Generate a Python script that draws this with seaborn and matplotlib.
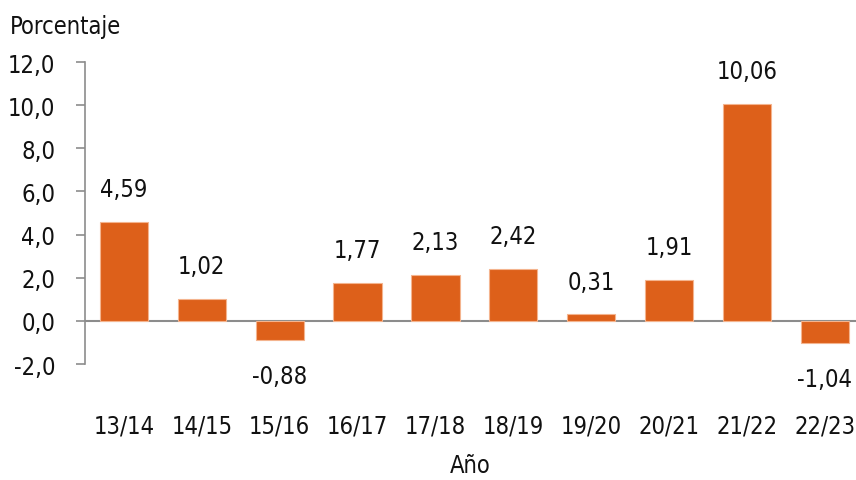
import matplotlib
matplotlib.use("Agg")
import matplotlib.pyplot as plt
import seaborn as sns
import pandas as pd

anios = ["13/14", "14/15", "15/16", "16/17", "17/18", "18/19", "19/20", "20/21", "21/22", "22/23"]
valores = [4.59, 1.02, -0.88, 1.77, 2.13, 2.42, 0.31, 1.91, 10.06, -1.04]
yticks = [-2, 0, 2, 4, 6, 8, 10, 12]

sns.set_theme(style="white")
plt.rcParams["font.family"] = ["DejaVu Sans"]
plt.rcParams["font.stretch"] = "condensed"

FS = 17
df = pd.DataFrame({"Año": anios, "Porcentaje": valores})

fig = plt.figure(figsize=(8.56, 4.81), dpi=100)
ax = fig.add_axes([85 / 856, 1 - 365 / 481, 1 - 85 / 856, (365 - 63) / 481])

sns.barplot(data=df, x="Año", y="Porcentaje", color="#DD601A", saturation=1,
            width=0.62, edgecolor="#F4B48E", linewidth=0.8, ax=ax)

# etiquetas de valor
for i, v in enumerate(valores):
    txt = f"{v:.2f}".replace(".", ",")
    if v >= 0:
        ax.text(i, v + 0.95, txt, ha="center", va="bottom", fontsize=FS, color="#111111")
    else:
        ax.text(i, v - 1.1, txt, ha="center", va="top", fontsize=FS, color="#111111")

ax.axhline(0, color="#8c8c8c", lw=1.5, zorder=0.5)
ax.set_ylim(-2, 12)
ax.set_xlim(-0.5, 9.4)
ax.set_yticks(yticks)
ax.set_yticklabels([f"{t:.1f}".replace(".", ",") for t in yticks], fontsize=FS, color="#111111")
ax.tick_params(axis="y", direction="out", length=6.5, width=1.2, color="#8c8c8c", pad=15, left=True)
ax.tick_params(axis="x", length=0, labelsize=FS, labelcolor="#111111", pad=36)

for s in ["top", "right", "bottom"]:
    ax.spines[s].set_visible(False)
ax.spines["left"].set_color("#8c8c8c")
ax.spines["left"].set_linewidth(1.2)

ax.set_ylabel("")
ax.set_xlabel("Año", fontsize=FS, color="#111111", labelpad=11)
fig.text(10 / 856, 1 - 27 / 481, "Porcentaje", fontsize=FS, color="#111111", va="center", ha="left")

fig.savefig("out.png", dpi=100)
